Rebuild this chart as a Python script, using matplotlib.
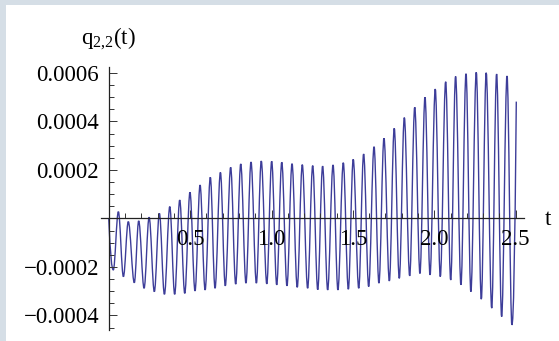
import numpy as np
import matplotlib
matplotlib.use("Agg")
import matplotlib.pyplot as plt
from matplotlib.path import Path
from matplotlib.patches import PathPatch
from matplotlib.ticker import FixedLocator, MultipleLocator, FuncFormatter

plt.rcParams["font.family"] = "Liberation Serif"
plt.rcParams["mathtext.fontset"] = "custom"
plt.rcParams["mathtext.rm"] = "Liberation Serif"
plt.rcParams["mathtext.it"] = "Liberation Serif"

# peaks and troughs of q_{2,2}(t)
t_ext = [0.000, 0.028, 0.059, 0.090, 0.120, 0.157, 0.184, 0.217, 0.248, 0.280,
         0.311, 0.342, 0.375, 0.405, 0.436, 0.467, 0.499, 0.530, 0.561, 0.592,
         0.624, 0.653, 0.686, 0.716, 0.749, 0.780, 0.811, 0.843, 0.874, 0.907,
         0.937, 0.971, 1.001, 1.032, 1.063, 1.095, 1.126, 1.158, 1.189, 1.222,
         1.253, 1.284, 1.314, 1.345, 1.378, 1.408, 1.441, 1.472, 1.502, 1.536,
         1.566, 1.597, 1.630, 1.660, 1.691, 1.724, 1.754, 1.785, 1.816, 1.849,
         1.880, 1.912, 1.943, 1.974, 2.006, 2.037, 2.070, 2.101, 2.131, 2.164,
         2.195, 2.225, 2.258, 2.289, 2.319, 2.353, 2.383, 2.414, 2.447, 2.477,
         2.504]
q_ext = [0.0, -0.000212, 0.000028, -0.000240, -0.000013, -0.000265, -0.000010,
         -0.000288, 0.000005, -0.000302, 0.000021, -0.000313, 0.000049,
         -0.000313, 0.000076, -0.000309, 0.000108, -0.000299, 0.000138,
         -0.000295, 0.000170, -0.000288, 0.000190, -0.000278, 0.000211,
         -0.000271, 0.000225, -0.000267, 0.000233, -0.000267, 0.000237,
         -0.000270, 0.000236, -0.000274, 0.000232, -0.000278, 0.000226,
         -0.000284, 0.000222, -0.000288, 0.000218, -0.000294, 0.000216,
         -0.000295, 0.000221, -0.000295, 0.000230, -0.000292, 0.000244,
         -0.000288, 0.000266, -0.000281, 0.000296, -0.000267, 0.000331,
         -0.000258, 0.000372, -0.000247, 0.000416, -0.000237, 0.000459,
         -0.000227, 0.000500, -0.000233, 0.000534, -0.000240, 0.000564,
         -0.000254, 0.000586, -0.000274, 0.000597, -0.000302, 0.000603,
         -0.000333, 0.000601, -0.000370, 0.000596, -0.000405, 0.000588,
         -0.000439, 0.000482]

x_ticks = [0.5, 1.0, 1.5, 2.0, 2.5]
y_ticks = [-0.0004, -0.0002, 0.0002, 0.0004, 0.0006]

fig = plt.figure(figsize=(5.59, 3.41), dpi=100)
fig.patch.set_facecolor("#d5dee6")
fig.patches.append(plt.Rectangle((6 / 559, 0), 1, 336 / 341, transform=fig.transFigure,
                                 facecolor="white", edgecolor="none", zorder=-5))

ax = fig.add_axes([0.18, 0.0323, 0.757, 0.7707])
ax.set_facecolor("none")

# smooth the swing between consecutive extrema with cubic beziers (flat at the turns)
k = 0.36
verts = [(t_ext[0], q_ext[0])]
codes = [Path.MOVETO]
n = len(t_ext)
for i in range(1, n):
    t0, q0 = t_ext[i - 1], q_ext[i - 1]
    t1, q1 = t_ext[i], q_ext[i]
    dt = t1 - t0
    c1 = (t0 + k * dt, q0 + (2 * k * (q1 - q0) if i == 1 else 0))
    c2 = (t1 - k * dt, q1 - (2 * k * (q1 - q0) if i == n - 1 else 0))
    verts += [c1, c2, (t1, q1)]
    codes += [Path.CURVE4] * 3
ax.add_patch(PathPatch(Path(verts, codes), fill=False, edgecolor="#3d3d99",
                       lw=1.0, zorder=1))

ax.set_xlim(-0.05, 2.55)
ax.set_ylim(-0.00046, 0.000624)

for s in ["top", "right"]:
    ax.spines[s].set_visible(False)
ax.spines["left"].set_position(("data", 0))
ax.spines["bottom"].set_position(("data", 0))
for s in ["left", "bottom"]:
    ax.spines[s].set_linewidth(0.9)
    ax.spines[s].set_color("#222222")
    ax.spines[s].set_zorder(3)

ax.xaxis.set_major_locator(FixedLocator(x_ticks))
ax.xaxis.set_minor_locator(MultipleLocator(0.1))
ax.yaxis.set_major_locator(FixedLocator(y_ticks))
ax.yaxis.set_minor_locator(MultipleLocator(0.00005))
ax.xaxis.set_major_formatter(FuncFormatter(lambda v, p: "%.1f" % v))
ax.yaxis.set_major_formatter(FuncFormatter(lambda v, p: ("%.4f" % v).replace("-", "\u2212")))

ax.tick_params(which="both", direction="in", color="#333333", width=0.7,
               labelsize=16.5, zorder=3)
ax.tick_params(which="major", length=6)
ax.tick_params(which="minor", length=3.5)
ax.tick_params(axis="x", pad=7.5)
ax.tick_params(axis="y", pad=7)

ax.text(2.68, -0.0000268, "t", fontsize=16.5, ha="left", va="baseline", clip_on=False)
ax.text(0.0, 0.000742, r"$\mathrm{q}_{\mathrm{2{,}2}}\mathrm{(t)}$", fontsize=16.5,
        ha="center", va="center")

fig.savefig("out.png", dpi=100)
